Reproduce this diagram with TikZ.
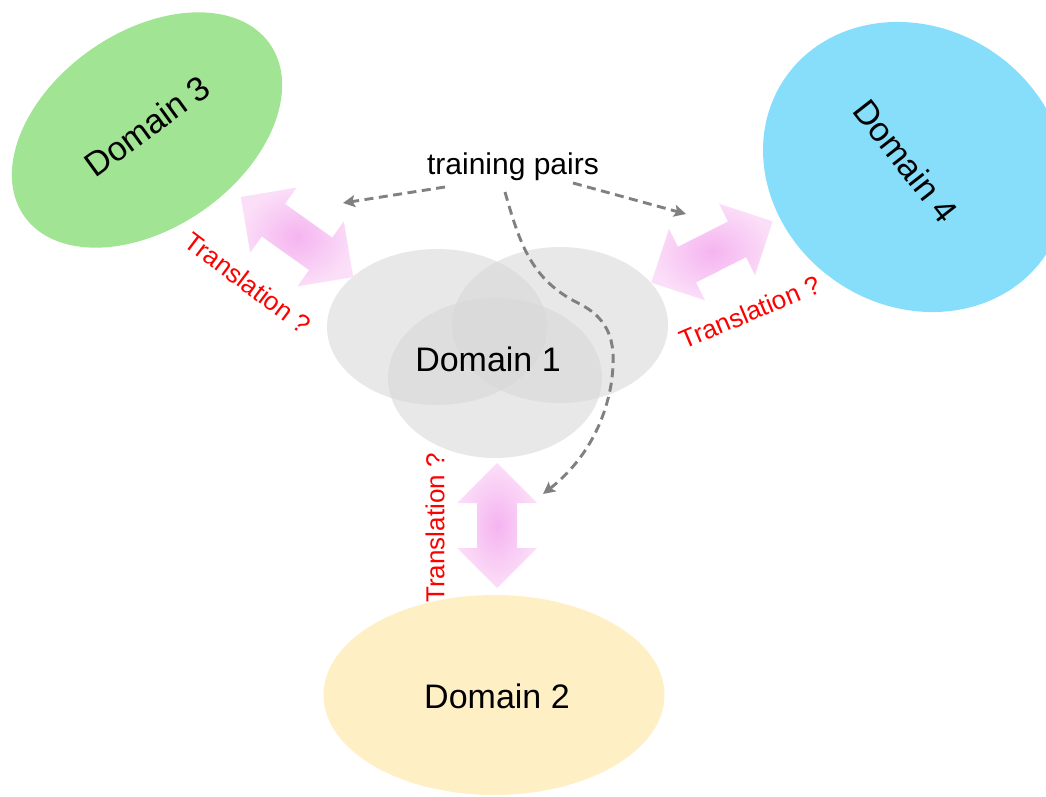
\documentclass[tikz,border=0pt]{standalone}
\usepackage{fontspec}
\setmainfont{Liberation Sans}
\usetikzlibrary{shapes.geometric,arrows.meta}
\definecolor{dgreen}{RGB}{161,228,148}
\definecolor{dblue}{RGB}{135,222,250}
\definecolor{dyellow}{RGB}{255,239,196}
\definecolor{dgrey}{RGB}{214,214,214}
\definecolor{pinkin}{RGB}{245,180,240}
\definecolor{pinkout}{RGB}{251,222,248}
\definecolor{dashgrey}{RGB}{128,128,128}
\newcommand\pinkdarrow[3]{%
  \begin{scope}[shift={#1},rotate=#2]
    \shade[inner color=pinkin,outer color=pinkout]
      ({#3/2},0) -- ({#3/2-40},40) -- ({#3/2-40},20) -- ({-#3/2+40},20)
      -- ({-#3/2+40},40) -- ({-#3/2},0) -- ({-#3/2+40},-40) -- ({-#3/2+40},-20)
      -- ({#3/2-40},-20) -- ({#3/2-40},-40) -- cycle;
  \end{scope}}
\begin{document}
\begin{tikzpicture}[x=1pt,y=-1pt,
  domainblob/.style={ellipse,inner sep=0pt,draw=none},
  dlabel/.style={font=\fontsize{34}{40}\selectfont,inner sep=0pt},
  trlabel/.style={font=\fontsize{26}{30}\selectfont,text=red,inner sep=0pt},
  greyblob/.style={ellipse,inner sep=0pt,fill=dgrey,fill opacity=0.56},
  pairarrow/.style={draw=dashgrey,line width=2.9pt,dash pattern=on 9pt off 5.5pt,
    -{Stealth[length=12pt,width=12pt,inset=2.5pt]}}]
\useasboundingbox (0,0) rectangle (1046,797);

% outer domains
\node[domainblob,fill=dgreen,minimum width=300pt,minimum height=196pt,rotate=35] (d3) at (147,130) {};
\node[dlabel,rotate=36] (t3) at (147,126) {Domain 3};
\begin{scope}
\clip (0,0) rectangle (1046,797);
\node[domainblob,fill=dblue,minimum width=315pt,minimum height=278pt,rotate=-34] (d4) at (915,167) {};
\end{scope}
\node[dlabel,rotate=-52] (t4) at (906,161) {Domain 4};
\node[domainblob,fill=dyellow,minimum width=341pt,minimum height=200pt] (d2) at (494,695) {};
\node[dlabel] (t2) at (497,696) {Domain 2};

% domain 1 blobs
\node[greyblob,minimum width=220pt,minimum height=156pt] (g1) at (437,327) {};
\node[greyblob,minimum width=216pt,minimum height=156pt] (g2) at (560,325) {};
\node[greyblob,minimum width=214pt,minimum height=160pt] (g3) at (495,378) {};
\node[dlabel] (t1) at (488,359) {Domain 1};

% translation arrows
\pinkdarrow{(297,237)}{-35.5}{138}
\pinkdarrow{(712,252)}{26.8}{136}
\pinkdarrow{(497,525.5)}{90}{125}

% translation labels
\node[trlabel,rotate=-37] (tr3) at (248,283) {Translation ?};
\node[trlabel,rotate=23] (tr4) at (750,312) {Translation ?};
\node[trlabel,rotate=90] (tr2) at (435,528) {Translation ?};

% training pairs
\node[font=\fontsize{30}{36}\selectfont,inner sep=0pt] (tp) at (513,167) {training pairs};
\coordinate (s1) at (445,187);
\coordinate (e1) at (343,203);
\coordinate (s2) at (573,183);
\coordinate (e2) at (686,214);
\coordinate (s3) at (505,192);
\coordinate (e3) at (543,494);
\draw[pairarrow] (s1) -- (e1);
\draw[pairarrow] (s2) -- (e2);
\draw[pairarrow] (s3) .. controls (520,245) and (532,280) .. (578,303)
  .. controls (612,320) and (617,345) .. (611,385)
  .. controls (603,430) and (580,465) .. (e3);
\end{tikzpicture}
\end{document}
